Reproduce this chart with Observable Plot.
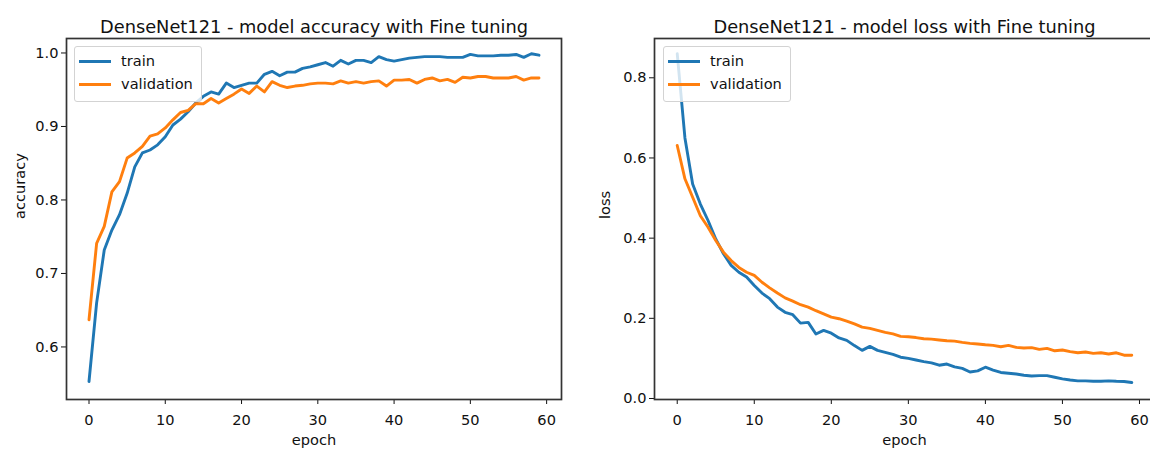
<!DOCTYPE html>
<html>
<head>
<meta charset="utf-8">
<script src="https://cdn.jsdelivr.net/npm/d3@7"></script>
<script src="https://cdn.jsdelivr.net/npm/@observablehq/plot@0.6"></script>
<style>
  html, body { margin: 0; padding: 0; background: #fff; overflow: hidden; }
  #wrap { position: relative; width: 1150px; height: 452px; overflow: hidden; font-family: "DejaVu Sans", sans-serif; }
  .panel { position: absolute; top: 0; height: 452px; }
  .panel svg { max-width: none !important; display: block; }
  .legend { position: absolute; box-sizing: border-box; border: 1px solid #d3d3d3; border-radius: 3px;
            background: rgba(255,255,255,0.8); font-size: 14.6px; color: #111; }
  .row { position: absolute; left: 0; height: 20px; line-height: 20px; white-space: nowrap; }
  .sw { position: absolute; left: 4px; top: 8.5px; width: 32px; height: 3px; }
  .lab { position: absolute; left: 46px; top: 0; }
</style>
</head>
<body>
<div id="wrap"></div>
<script>
// ---- data ----
const seriesNames = ["train", "validation"];
const xTicks = [0, 10, 20, 30, 40, 50, 60];
const accTicks = [0.6, 0.7, 0.8, 0.9, 1.0];
const lossTicks = [0.0, 0.2, 0.4, 0.6, 0.8];

const trainAcc = [0.553,0.660,0.732,0.759,0.780,0.809,0.845,0.864,0.868,0.875,
  0.886,0.902,0.910,0.920,0.932,0.941,0.947,0.944,0.959,0.953,
  0.956,0.959,0.959,0.971,0.975,0.969,0.974,0.974,0.979,0.981,
  0.984,0.987,0.982,0.990,0.985,0.990,0.990,0.987,0.995,0.991,
  0.989,0.991,0.993,0.994,0.995,0.995,0.995,0.994,0.994,0.994,
  0.998,0.996,0.996,0.996,0.997,0.997,0.998,0.994,0.999,0.997];
const valAcc = [0.637,0.741,0.764,0.811,0.825,0.857,0.864,0.873,0.887,0.890,
  0.898,0.909,0.919,0.922,0.931,0.931,0.938,0.932,0.938,0.944,
  0.951,0.945,0.955,0.947,0.961,0.956,0.953,0.955,0.956,0.958,
  0.959,0.959,0.958,0.962,0.959,0.961,0.959,0.961,0.962,0.955,
  0.963,0.963,0.964,0.959,0.964,0.966,0.962,0.964,0.960,0.967,
  0.966,0.968,0.968,0.966,0.966,0.966,0.968,0.963,0.966,0.966];
const trainLoss = [0.860,0.650,0.535,0.485,0.444,0.398,0.361,0.332,0.315,0.303,
  0.282,0.263,0.249,0.228,0.215,0.209,0.188,0.190,0.161,0.170,
  0.163,0.151,0.145,0.132,0.120,0.130,0.120,0.115,0.110,0.103,
  0.100,0.096,0.092,0.089,0.083,0.086,0.079,0.075,0.066,0.069,
  0.078,0.071,0.065,0.063,0.061,0.058,0.056,0.057,0.057,0.053,
  0.049,0.046,0.044,0.044,0.043,0.043,0.044,0.043,0.0425,0.040];
const valLoss = [0.631,0.548,0.502,0.456,0.427,0.394,0.365,0.344,0.327,0.315,
  0.307,0.290,0.276,0.263,0.251,0.243,0.234,0.228,0.219,0.211,
  0.203,0.199,0.193,0.186,0.178,0.175,0.170,0.165,0.161,0.155,
  0.154,0.152,0.149,0.148,0.146,0.144,0.143,0.140,0.1375,0.136,
  0.134,0.1325,0.129,0.1325,0.1275,0.126,0.127,0.1225,0.125,0.119,
  0.121,0.117,0.114,0.116,0.1125,0.114,0.111,0.114,0.108,0.108];

const BLUE = "#1f77b4", ORANGE = "#ff7f0e";

function panel(opts) {
  const chart = Plot.plot({
    width: opts.width, height: 452,
    marginLeft: opts.ml, marginRight: opts.mr, marginTop: 38, marginBottom: 53,
    style: {fontFamily: "DejaVu Sans, sans-serif", fontSize: "14.6px", color: "#111", background: "transparent", maxWidth: "none"},
    x: {domain: [-2.95, 61.95], ticks: xTicks, tickSize: 5, tickPadding: 10, label: null},
    y: {domain: opts.ydomain, ticks: opts.yticks, tickFormat: d3.format(".1f"), tickSize: 5, tickPadding: 3, label: null},
    marks: [
      Plot.line(opts.train, {x: (d, i) => i, y: d => d, stroke: BLUE, strokeWidth: 2.9}),
      Plot.line(opts.val, {x: (d, i) => i, y: d => d, stroke: ORANGE, strokeWidth: 2.9}),
      Plot.frame({stroke: "#333", strokeWidth: 1.7}),
      Plot.text([opts.title], {frameAnchor: "top", dy: -18, fontSize: 17.8, fill: "#111"}),
      Plot.text(["epoch"], {frameAnchor: "bottom", dy: 45, fill: "#111"}),
      Plot.text([opts.ylabel], {frameAnchor: "left", rotate: -90, dx: opts.ylabDx, fill: "#111"})
    ]
  });
  const holder = document.createElement("div");
  holder.className = "panel";
  holder.style.left = opts.left + "px";
  holder.style.width = opts.width + "px";
  holder.appendChild(chart);
  document.getElementById("wrap").appendChild(holder);

  const lg = document.createElement("div");
  lg.className = "legend";
  lg.style.left = opts.legLeft + "px";
  lg.style.top = "46px";
  lg.style.width = "128px";
  lg.style.height = "56px";
  [BLUE, ORANGE].forEach((c, k) => {
    const row = document.createElement("div");
    row.className = "row";
    row.style.top = (4 + k * 23) + "px";
    row.innerHTML = `<span class="sw" style="background:${c}"></span><span class="lab">${seriesNames[k]}</span>`;
    lg.appendChild(row);
  });
  document.getElementById("wrap").appendChild(lg);
}

panel({left: 0, width: 580, ml: 66, mr: 19, ydomain: [0.5285, 1.0197], yticks: accTicks,
  train: trainAcc, val: valAcc, title: "DenseNet121 - model accuracy with Fine tuning",
  ylabel: "accuracy", ylabDx: -46, legLeft: 74});
panel({left: 580, width: 590, ml: 74, mr: 16, ydomain: [-0.0025, 0.898], yticks: lossTicks,
  train: trainLoss, val: valLoss, title: "DenseNet121 - model loss with Fine tuning",
  ylabel: "loss", ylabDx: -49, legLeft: 663});
</script>
</body>
</html>
